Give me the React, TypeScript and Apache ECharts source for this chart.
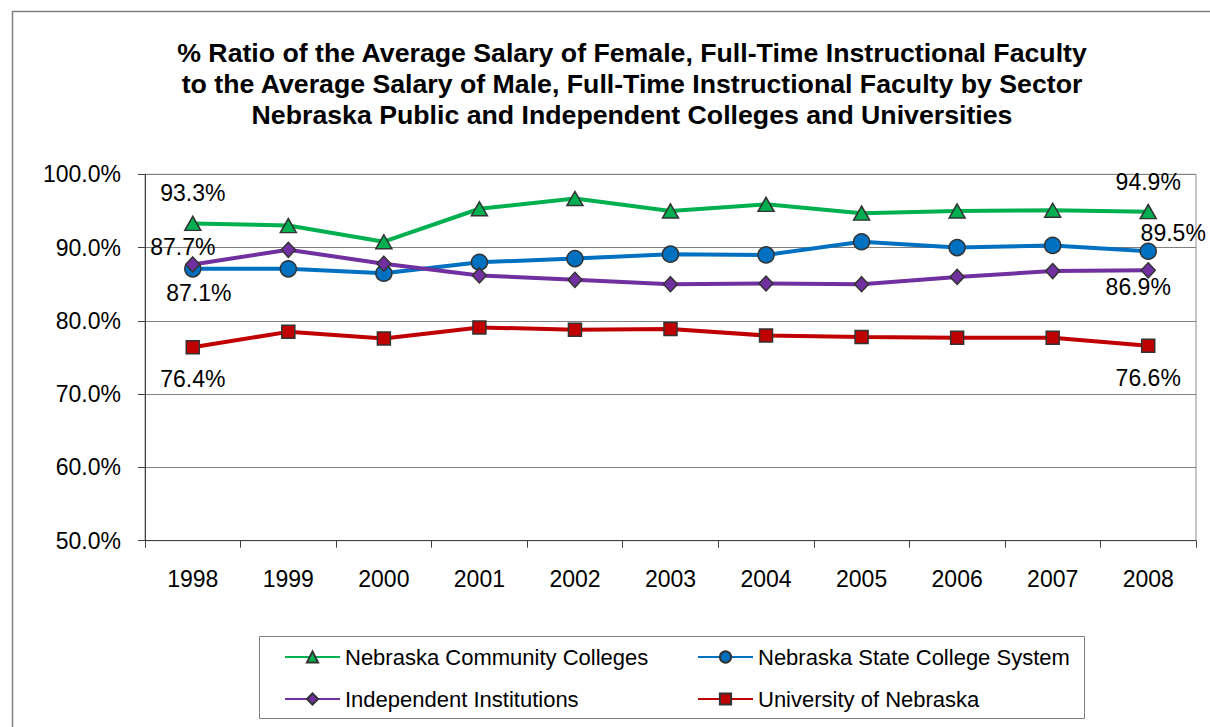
import { useEffect, useRef } from 'react';
import * as echarts from 'echarts';

const years = ['1998', '1999', '2000', '2001', '2002', '2003', '2004', '2005', '2006', '2007', '2008'];
const yTicks = [50, 60, 70, 80, 90, 100];

const communityColleges = [93.3, 93.0, 90.8, 95.3, 96.7, 95.0, 95.9, 94.7, 95.0, 95.1, 94.9];
const stateCollegeSystem = [87.1, 87.1, 86.5, 88.0, 88.5, 89.1, 89.0, 90.8, 90.0, 90.3, 89.5];
const independentInstitutions = [87.7, 89.7, 87.8, 86.2, 85.6, 85.0, 85.1, 85.0, 86.0, 86.8, 86.9];
const universityOfNebraska = [76.4, 78.5, 77.6, 79.1, 78.8, 78.9, 78.0, 77.8, 77.7, 77.7, 76.6];

const names = [
  'Nebraska Community Colleges',
  'Nebraska State College System',
  'Independent Institutions',
  'University of Nebraska',
];

const titleLines = [
  '% Ratio of the Average Salary of Female, Full-Time Instructional Faculty',
  'to the Average Salary of Male, Full-Time Instructional Faculty by Sector',
  'Nebraska Public and Independent Colleges and Universities',
];

export default function App() {
  const ref = useRef<HTMLDivElement>(null);

  useEffect(() => {
    const chart = echarts.init(ref.current!, null, { renderer: 'svg' });
    const font = "'Liberation Sans', Arial, sans-serif";
    const fmt = (v: number) => v.toFixed(1) + '%';

    const mkData = (vals: number[], first: number[], last: number[]) =>
      vals.map((v, i) => {
        const off = i === 0 ? first : i === vals.length - 1 ? last : null;
        if (!off) return v;
        return {
          value: v,
          label: {
            show: true,
            position: 'inside',
            offset: off,
            formatter: fmt(v),
            color: '#000',
            fontSize: 23,
            fontFamily: font,
            align: 'center',
            verticalAlign: 'middle',
          },
        };
      });

    const mkSeries = (
      name: string,
      vals: number[],
      color: string,
      symbol: string,
      symbolSize: number | number[],
      first: number[],
      last: number[]
    ) => ({
      name,
      type: 'line',
      data: mkData(vals, first, last),
      symbol,
      symbolSize,
      showAllSymbol: true,
      lineStyle: { color, width: 4 },
      itemStyle: { color, borderColor: '#333', borderWidth: 1.5 },
      label: { show: false },
      emphasis: { disabled: true },
    });

    const legendBase = {
      orient: 'vertical',
      top: 646,
      padding: 0,
      itemWidth: 55,
      itemHeight: 14,
      itemGap: 20,
      selectedMode: false,
      textStyle: { color: '#000', fontSize: 22, fontFamily: font, lineHeight: 22 },
    };

    const option: any = {
      animation: false,
      backgroundColor: '#fff',
      title: {
        text: titleLines.join('\n'),
        left: 632,
        top: 37,
        padding: 0,
        textAlign: 'center',
        textStyle: {
          fontFamily: font,
          fontSize: 26.7,
          fontWeight: 'bold',
          color: '#000',
          lineHeight: 31,
        },
      },
      grid: {
        left: 145,
        right: 14,
        top: 174.3,
        bottom: 186.3,
        show: true,
        borderColor: '#8c8c8c',
        borderWidth: 1,
        containLabel: false,
      },
      xAxis: {
        type: 'category',
        data: years,
        boundaryGap: true,
        axisLine: { show: true, lineStyle: { color: '#404040', width: 1 } },
        axisTick: { show: true, length: 7, alignWithLabel: false, lineStyle: { color: '#404040' } },
        axisLabel: { color: '#000', fontSize: 23, fontFamily: font, margin: 27, interval: 0 },
        splitLine: { show: false },
      },
      yAxis: {
        type: 'value',
        min: yTicks[0],
        max: yTicks[yTicks.length - 1],
        interval: 10,
        axisLine: { show: true, lineStyle: { color: '#404040', width: 1 } },
        axisTick: { show: true, length: 7, lineStyle: { color: '#404040' } },
        axisLabel: { color: '#000', fontSize: 23, fontFamily: font, margin: 24, formatter: (v: number) => fmt(v) },
        splitLine: { show: true, lineStyle: { color: '#808080', width: 1 } },
      },
      legend: [
        { ...legendBase, left: 284, data: [names[0], names[2]] },
        { ...legendBase, left: 697, data: [names[1], names[3]] },
      ],
      graphic: [
        {
          type: 'rect',
          left: 10,
          top: 9,
          shape: { x: 0, y: 0, width: 1260, height: 800 },
          style: { fill: 'none', stroke: '#7f7f7f', lineWidth: 1.5 },
          silent: true,
          z: -10,
        },
        {
          type: 'rect',
          shape: { x: 259.5, y: 636.5, width: 825, height: 82 },
          style: { fill: 'none', stroke: '#7f7f7f', lineWidth: 1 },
          silent: true,
        },
      ],
      series: [
        mkSeries(names[0], communityColleges, '#00B050', 'triangle', [16, 14], [0, -30], [0, -30]),
        mkSeries(names[1], stateCollegeSystem, '#0070C0', 'circle', 16, [6, 24], [25, -18]),
        mkSeries(names[2], independentInstitutions, '#7030A0', 'diamond', [14, 15], [-10, -17], [-10, 17]),
        mkSeries(names[3], universityOfNebraska, '#C00000', 'rect', 13, [0, 32], [0, 32]),
      ],
    };

    chart.setOption(option);
    return () => chart.dispose();
  }, []);

  return (
    <div
      ref={ref}
      style={{ position: 'absolute', left: 0, top: 0, width: 1210, height: 727, background: '#fff' }}
    />
  );
}
